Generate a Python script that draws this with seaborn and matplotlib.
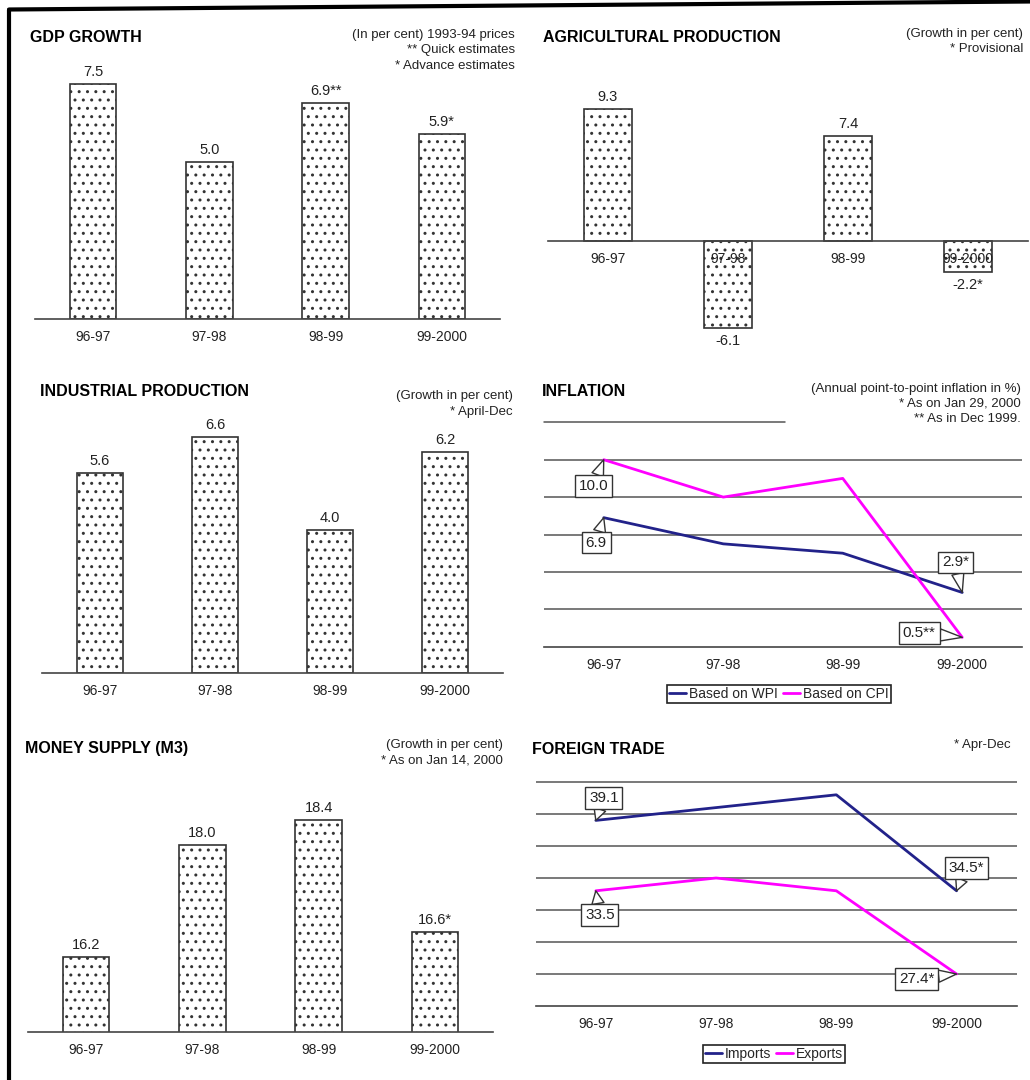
import matplotlib
matplotlib.use("Agg")
import matplotlib.pyplot as plt
from matplotlib.lines import Line2D
import numpy as np
import pandas as pd
import seaborn as sns

W, H = 1030, 1080

YEARS = ["96-97", "97-98", "98-99", "99-2000"]

GDP = [7.5, 5.0, 6.9, 5.9]
GDP_LABELS = ["7.5", "5.0", "6.9**", "5.9*"]
AGRI = [9.3, -6.1, 7.4, -2.2]
AGRI_LABELS = ["9.3", "-6.1", "7.4", "-2.2*"]
INDUSTRY = [5.6, 6.6, 4.0, 6.2]
INDUSTRY_LABELS = ["5.6", "6.6", "4.0", "6.2"]
M3 = [16.2, 18.0, 18.4, 16.6]
M3_LABELS = ["16.2", "18.0", "18.4", "16.6*"]

WPI = [6.9, 5.5, 5.0, 2.9]
CPI = [10.0, 8.0, 9.0, 0.5]
WPI_CALLOUTS = ["6.9", None, None, "2.9*"]
CPI_CALLOUTS = ["10.0", None, None, "0.5**"]

IMPORTS = [39.5, 40.5, 41.5, 34.0]
EXPORTS = [34.0, 35.0, 34.0, 27.5]
IMPORT_CALLOUTS = ["39.1", None, None, "34.5*"]
EXPORT_CALLOUTS = ["33.5", None, None, "27.4*"]

NAVY = "#22228a"
MAGENTA = "#ff00ff"
INK = "#222222"
AXIS = "#444444"
PT = 72 / 100  # pixels -> points

sns.set_style("white")
plt.rcParams["font.family"] = ["Liberation Sans", "DejaVu Sans"]
plt.rcParams["hatch.color"] = "#333333"
plt.rcParams["hatch.linewidth"] = 1.0

fig = plt.figure(figsize=(W / 100, H / 100), dpi=100)


def place(ax, left, right, ref_px, ref_val, ppu, lo, hi):
    # put an axes on the page in pixel terms; ref_val sits on pixel row ref_px
    bottom = ref_px + (ref_val - lo) * ppu
    top = ref_px - (hi - ref_val) * ppu
    ax.set_position([left / W, 1 - bottom / H, (right - left) / W, (bottom - top) / H])
    ax.set_ylim(lo, hi)


def style_axis(ax):
    for s in ("left", "top", "right"):
        ax.spines[s].set_visible(False)
    ax.spines["bottom"].set_color(AXIS)
    ax.spines["bottom"].set_linewidth(1.2)
    ax.set_xlim(-0.5, 3.5)
    ax.set_xticks(range(4), YEARS)
    ax.set_xticks(np.arange(-0.5, 4, 1), minor=True)
    ax.tick_params(axis="x", which="major", length=0, pad=8, labelsize=10, labelcolor=INK)
    ax.tick_params(axis="x", which="minor", length=4, width=1, color=AXIS)
    ax.tick_params(axis="y", length=0, labelleft=False)
    ax.set_xlabel("")
    ax.set_ylabel("")


def bars(ax, values, labels):
    sns.barplot(x=YEARS, y=values, color="white", saturation=1, edgecolor="#333333",
                linewidth=1.2, width=0.4, errorbar=None, ax=ax)
    for p, lab in zip(ax.patches, labels):
        p.set_hatch("..")
        v = p.get_height()
        off = 12 if v >= 0 else -13
        ax.annotate(lab, (p.get_x() + p.get_width() / 2, v), xytext=(0, off * PT),
                    textcoords="offset points", ha="center", va="center",
                    fontsize=10.5, color=INK)
    style_axis(ax)
    ax.set_yticks([])
    ax.set_axisbelow(False)


def callout(ax, x, y, text, dx, dy):
    ax.annotate(text, xy=(x, y), xytext=(dx * PT, dy * PT), textcoords="offset points",
                ha="center", va="center", fontsize=11, color=INK, zorder=5,
                bbox=dict(boxstyle="square,pad=0.25", fc="white", ec="#333333", lw=1),
                arrowprops=dict(arrowstyle="wedge,tail_width=0.8", fc="white", ec="#333333",
                                lw=1, shrinkA=0, shrinkB=0))


def lines(ax, a, b, names, colors, step, lo, hi):
    df = pd.DataFrame({"year": YEARS * 2, "value": a + b,
                       "series": [names[0]] * 4 + [names[1]] * 4})
    sns.lineplot(data=df, x="year", y="value", hue="series", palette=dict(zip(names, colors)),
                 linewidth=2, sort=False, ax=ax)
    style_axis(ax)
    ax.set_yticks(np.arange(lo + step, hi + 0.01, step))
    ax.yaxis.grid(True, color="#555555", linewidth=1.1)
    ax.set_axisbelow(True)


def legend(ax, cx, cy):
    sns.move_legend(ax, "center", bbox_to_anchor=(cx / W, 1 - cy / H), bbox_transform=fig.transFigure,
                    ncol=2, title=None, frameon=True, fancybox=False, edgecolor=INK, framealpha=1,
                    fontsize=10, handlelength=1.2, handletextpad=0.2, columnspacing=0.4,
                    borderpad=0.15, borderaxespad=0)
    ax.get_legend().get_frame().set_linewidth(1.2)


def title(x, y, text):
    fig.text(x / W, 1 - y / H, text, fontsize=11.5, fontweight="bold", va="center", color="black")


def note(x, y, text):
    fig.text(x / W, 1 - y / H, text, fontsize=9.5, ha="right", va="center",
             linespacing=1.35, color=INK)


# GDP growth
ax = fig.add_axes([0, 0, 1, 1])
bars(ax, GDP, GDP_LABELS)
place(ax, 35, 500, 319, 0, 31.3, 0, 8.6)
title(30, 37, "GDP GROWTH")
note(515, 50.5, "(In per cent) 1993-94 prices\n** Quick estimates\n* Advance estimates")

# Agricultural production
ax = fig.add_axes([0, 0, 1, 1])
bars(ax, AGRI, AGRI_LABELS)
ax.spines["bottom"].set_position(("data", 0))
place(ax, 548, 1028, 241, 0, 14.2, -7.5, 10.5)
title(543, 38, "AGRICULTURAL PRODUCTION")
note(1023, 41.7, "(Growth in per cent)\n* Provisional")

# Industrial production
ax = fig.add_axes([0, 0, 1, 1])
bars(ax, INDUSTRY, INDUSTRY_LABELS)
place(ax, 42, 503, 672.7, 0, 35.65, 0, 7.3)
title(40, 391.7, "INDUSTRIAL PRODUCTION")
note(513, 404, "(Growth in per cent)\n* April-Dec")

# Money supply
ax = fig.add_axes([0, 0, 1, 1])
bars(ax, M3, M3_LABELS)
place(ax, 28, 493, 1032.3, 15, 62.5, 15, 19.2)
title(25, 748.3, "MONEY SUPPLY (M3)")
note(503, 753, "(Growth in per cent)\n* As on Jan 14, 2000")

# Inflation
ax = fig.add_axes([0, 0, 1, 1])
lines(ax, WPI, CPI, ["Based on WPI", "Based on CPI"], [NAVY, MAGENTA], 2, 0, 10)
ax.axhline(12, xmin=0, xmax=0.505, color="#555555", linewidth=1.1, clip_on=False)
place(ax, 544, 1022, 646.7, 0, 18.7, 0, 12.3)
inflation_offsets = {("WPI", 0): (-7.5, -25), ("WPI", 3): (-7, 30),
                     ("CPI", 0): (-10.5, -26.5), ("CPI", 3): (-43, 4.5)}
for key, vals, labs in (("WPI", WPI, WPI_CALLOUTS), ("CPI", CPI, CPI_CALLOUTS)):
    for i, lab in enumerate(labs):
        if lab:
            callout(ax, i, vals[i], lab, *inflation_offsets[(key, i)])
legend(ax, 779, 694)
title(541.7, 391.7, "INFLATION")
note(1021, 403.7, "(Annual point-to-point inflation in %)\n* As on Jan 29, 2000\n** As in Dec 1999.")

# Foreign trade
ax = fig.add_axes([0, 0, 1, 1])
lines(ax, IMPORTS, EXPORTS, ["Imports", "Exports"], [NAVY, MAGENTA], 2.5, 25, 42.5)
place(ax, 535.7, 1016.7, 1006, 25, 12.8, 25, 43)
trade_offsets = {("IMP", 0): (8, 22.5), ("IMP", 3): (9.5, 22.7),
                 ("EXP", 0): (4, -24), ("EXP", 3): (-40, -4.7)}
for key, vals, labs in (("IMP", IMPORTS, IMPORT_CALLOUTS), ("EXP", EXPORTS, EXPORT_CALLOUTS)):
    for i, lab in enumerate(labs):
        if lab:
            callout(ax, i, vals[i], lab, *trade_offsets[(key, i)])
legend(ax, 774, 1053.7)
title(532.3, 749.3, "FOREIGN TRADE")
note(1011, 745, "* Apr-Dec")

# page frame: thick rule down the left and across the top
fig.add_artist(Line2D([9 / W, 9 / W], [0, 1 - 9.5 / H], transform=fig.transFigure, color="black", lw=3))
fig.add_artist(Line2D([9 / W, 1], [1 - 9.5 / H, 1 - 1.5 / H], transform=fig.transFigure, color="black", lw=3))

fig.savefig("out.png", dpi=100)
plt.close(fig)
